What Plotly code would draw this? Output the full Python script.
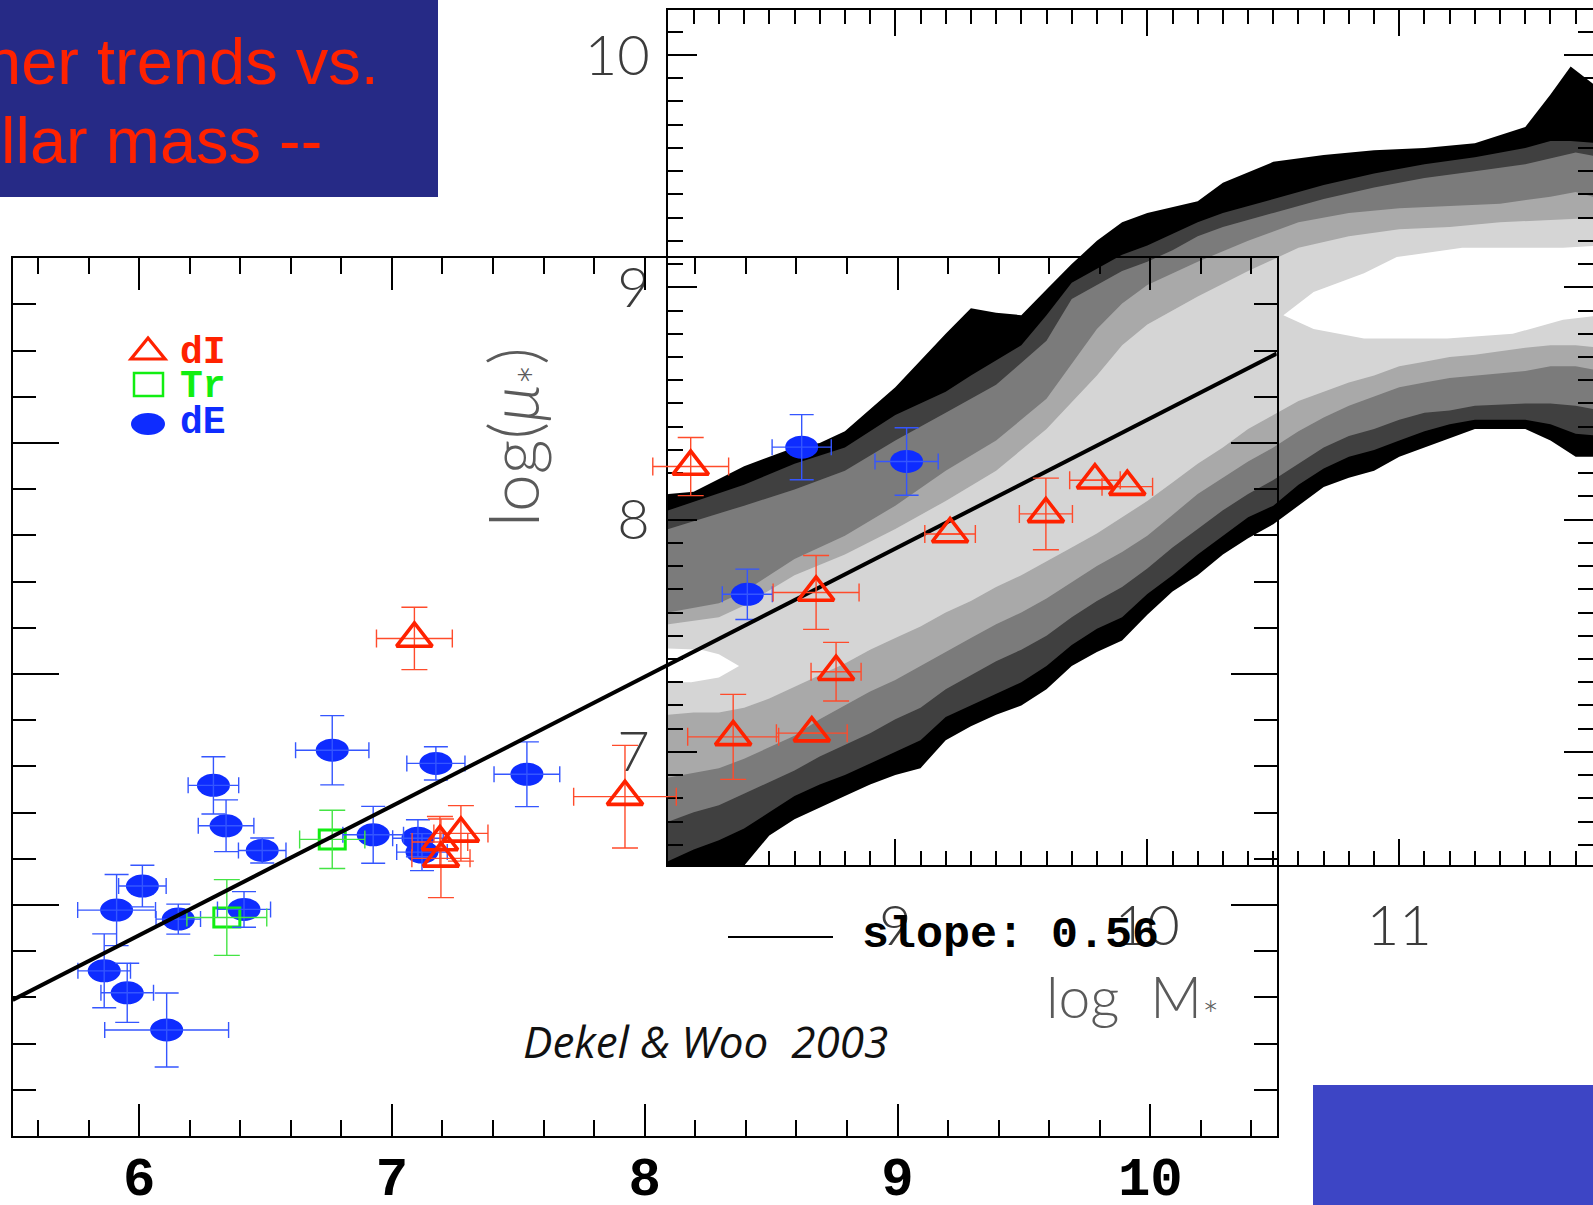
import plotly.graph_objects as go

W, H = 1593, 1205

# ---------------- foreground data (Dekel & Woo 2003) ----------------
dI_x = [8.182, 8.678, 9.208, 9.587, 9.781, 9.909, 8.757, 8.350, 8.661, 7.089, 7.190, 7.273, 7.194, 7.922]
dI_y = [7.898, 7.353, 7.606, 7.693, 7.839, 7.811, 7.010, 6.728, 6.744, 7.154, 6.273, 6.310, 6.202, 6.469]
dI_xerr = [0.15, 0.17, 0.10, 0.105, 0.10, 0.10, 0.099, 0.18, 0.14, 0.15, 0.11, 0.107, 0.115, 0.203]
dI_yerr = [0.126, 0.16, 0.0, 0.155, 0.0, 0.0, 0.127, 0.184, 0.0, 0.135, 0.11, 0.12, 0.17, 0.222]

dE_x = [6.764, 6.294, 6.344, 6.487, 7.174, 6.926, 7.103, 7.119, 7.534, 6.013, 5.911, 6.155, 6.415,
        5.862, 5.953, 6.109, 8.621, 9.036, 8.406]
dE_y = [6.670, 6.518, 6.343, 6.236, 6.613, 6.304, 6.289, 6.229, 6.566, 6.082, 5.978, 5.939, 5.981,
        5.715, 5.620, 5.459, 7.982, 7.920, 7.345]
dE_xerr = [0.145, 0.10, 0.11, 0.094, 0.115, 0.12, 0.10, 0.10, 0.13, 0.094, 0.154, 0.088, 0.105,
           0.104, 0.104, 0.245, 0.117, 0.125, 0.099]
dE_yerr = [0.15, 0.124, 0.112, 0.054, 0.072, 0.123, 0.08, 0.08, 0.14, 0.09, 0.154, 0.065, 0.077,
           0.16, 0.128, 0.16, 0.141, 0.146, 0.109]

Tr_x = [6.764, 6.347]
Tr_y = [6.284, 5.946]
Tr_xerr = [0.129, 0.158]
Tr_yerr = [0.126, 0.164]

fit_x = [5.5, 10.5]
fit_y = [5.589, 8.387]
fg_xticks = [6, 7, 8, 9, 10]

# ---------------- background data (contour bands, log M* vs log mu*) ----------------
U0_x = [8.0, 8.1, 8.2, 8.4, 8.6, 8.7, 8.8, 9.0, 9.2, 9.3, 9.4, 9.5, 9.6, 9.7, 9.8, 9.9, 10.0,
        10.2, 10.3, 10.5, 10.7, 10.9, 11.1, 11.3, 11.5, 11.6, 11.68, 11.8]
U0_y = [8.06, 8.11, 8.12, 8.23, 8.31, 8.33, 8.38, 8.57, 8.80, 8.91, 8.89, 8.88, 8.99, 9.10, 9.20,
        9.28, 9.32, 9.37, 9.45, 9.54, 9.57, 9.59, 9.60, 9.62, 9.69, 9.83, 9.95, 9.85]
U1_x = [8.0, 8.1, 8.4, 8.6, 8.8, 9.0, 9.2, 9.3, 9.5, 9.6, 9.7, 9.8, 9.9, 10.0, 10.1, 10.2, 10.3,
        10.5, 10.7, 10.9, 11.1, 11.3, 11.5, 11.6, 11.68, 11.8]
U1_y = [8.00, 8.04, 8.15, 8.24, 8.31, 8.45, 8.55, 8.62, 8.75, 8.88, 9.02, 9.08, 9.14, 9.18, 9.23,
        9.28, 9.32, 9.38, 9.44, 9.49, 9.53, 9.56, 9.60, 9.63, 9.63, 9.62]
U2_x = [8.0, 8.1, 8.4, 8.6, 8.8, 9.0, 9.2, 9.4, 9.6, 9.7, 9.8, 9.9, 10.0, 10.1, 10.2, 10.3, 10.5,
        10.7, 10.9, 11.1, 11.3, 11.5, 11.7, 11.8]
U2_y = [7.91, 7.96, 8.06, 8.13, 8.21, 8.34, 8.46, 8.58, 8.77, 8.95, 9.01, 9.07, 9.11, 9.16, 9.22,
        9.26, 9.32, 9.38, 9.43, 9.47, 9.50, 9.53, 9.58, 9.56]
U3_x = [8.0, 8.1, 8.3, 8.4, 8.6, 8.8, 9.0, 9.2, 9.4, 9.6, 9.8, 9.9, 10.0, 10.2, 10.4, 10.6, 10.8,
        11.0, 11.2, 11.4, 11.6, 11.7, 11.8]
U3_y = [7.58, 7.60, 7.64, 7.69, 7.83, 7.93, 8.06, 8.21, 8.34, 8.52, 8.82, 8.93, 9.01, 9.11, 9.20,
        9.28, 9.32, 9.34, 9.35, 9.36, 9.39, 9.41, 9.38]
U4_x = [8.0, 8.1, 8.3, 8.4, 8.6, 8.8, 9.0, 9.2, 9.4, 9.6, 9.8, 9.9, 10.0, 10.2, 10.4, 10.6, 10.8,
        11.0, 11.2, 11.4, 11.6, 11.8]
U4_y = [7.53, 7.55, 7.58, 7.63, 7.76, 7.85, 7.96, 8.08, 8.21, 8.39, 8.62, 8.75, 8.84, 8.96, 9.07,
        9.17, 9.22, 9.25, 9.26, 9.28, 9.29, 9.30]

L_x = [8.0, 8.1, 8.2, 8.3, 8.4, 8.5, 8.6, 8.7, 8.8, 8.9, 9.0, 9.1, 9.2, 9.3, 9.4, 9.5, 9.6, 9.7,
       9.8, 9.9, 10.0, 10.1, 10.2, 10.3, 10.4, 10.5, 10.6, 10.7, 10.8, 10.9, 11.0, 11.1, 11.2,
       11.3, 11.5, 11.6, 11.7, 11.8]
L0_y = [6.21, 6.30, 6.38, 6.45, 6.51, 6.64, 6.71, 6.76, 6.81, 6.86, 6.90, 6.93, 7.05, 7.11, 7.16,
        7.20, 7.27, 7.37, 7.43, 7.48, 7.59, 7.69, 7.76, 7.85, 7.92, 7.98, 8.06, 8.14, 8.18, 8.21,
        8.27, 8.31, 8.35, 8.39, 8.39, 8.34, 8.27, 8.27]
L1_y = [6.49, 6.53, 6.58, 6.62, 6.67, 6.74, 6.81, 6.86, 6.90, 6.95, 7.00, 7.05, 7.15, 7.20, 7.25,
        7.30, 7.37, 7.46, 7.53, 7.58, 7.68, 7.76, 7.85, 7.93, 8.01, 8.06, 8.15, 8.22, 8.27, 8.30,
        8.34, 8.38, 8.41, 8.43, 8.43, 8.41, 8.37, 8.36]
L2_y = [6.66, 6.70, 6.74, 6.77, 6.82, 6.87, 6.92, 6.98, 7.03, 7.08, 7.14, 7.19, 7.27, 7.33, 7.39,
        7.44, 7.50, 7.58, 7.65, 7.71, 7.79, 7.88, 7.96, 8.04, 8.11, 8.17, 8.24, 8.31, 8.36, 8.39,
        8.43, 8.46, 8.47, 8.49, 8.50, 8.50, 8.49, 8.47]
L3_y = [6.86, 6.89, 6.91, 6.93, 6.97, 7.02, 7.07, 7.14, 7.20, 7.26, 7.31, 7.37, 7.43, 7.49, 7.55,
        7.60, 7.66, 7.73, 7.80, 7.86, 7.93, 8.02, 8.11, 8.18, 8.25, 8.31, 8.38, 8.44, 8.49, 8.53,
        8.57, 8.59, 8.61, 8.62, 8.64, 8.66, 8.66, 8.64]
L4_y = [7.15, 7.16, 7.17, 7.17, 7.19, 7.23, 7.28, 7.33, 7.38, 7.44, 7.49, 7.54, 7.60, 7.65, 7.71,
        7.76, 7.82, 7.88, 7.94, 8.01, 8.08, 8.16, 8.24, 8.31, 8.39, 8.45, 8.51, 8.55, 8.59, 8.62,
        8.66, 8.68, 8.70, 8.71, 8.74, 8.75, 8.75, 8.74]

coreA_x = [10.54, 10.66, 10.86, 10.99, 11.25, 11.45, 11.65, 11.80, 11.80, 11.65, 11.45, 11.19, 10.86, 10.66]
coreA_y = [8.88, 8.98, 9.06, 9.13, 9.17, 9.17, 9.17, 9.18, 8.88, 8.86, 8.80, 8.78, 8.78, 8.82]
coreB_x = [7.99, 8.23, 8.30, 8.38, 8.30, 8.19, 7.99]
coreB_y = [7.45, 7.44, 7.42, 7.37, 7.32, 7.30, 7.30]

bg_xticks = [9, 10, 11]
bg_yticks = [7, 8, 9, 10]

# ---------------- layout geometry (pixels) ----------------
BG_L, BG_R, BG_T, BG_B = 668.0, 1593.0, 10.0, 865.0
BG_XR = [8.098, 11.7687]
BG_YR = [6.5131, 10.1937]
FG_L, FG_R, FG_T, FG_B = 12.7, 1276.7, 258.2, 1136.0
FG_XR = [5.5, 10.5]
FG_YR = [5.0, 8.8]
fg_ppx = (FG_R - FG_L) / (FG_XR[1] - FG_XR[0])
fg_ppy = (FG_B - FG_T) / (FG_YR[1] - FG_YR[0])

def px(x):
    return x / W

def py(y):
    return 1 - y / H

RED = "#ff2200"
RED_ERR = "#ff4b2b"
BLUE = "#0e2cff"
BLUE_ERR = "#3556ff"
GREEN = "#11ee11"
GREEN_ERR = "#44e444"

fig = go.Figure()

# background contour bands
bands = [
    ("#000000", U0_x, U0_y, L0_y),
    ("#404040", U1_x, U1_y, L1_y),
    ("#7b7b7b", U2_x, U2_y, L2_y),
    ("#a9a9a9", U3_x, U3_y, L3_y),
    ("#d5d5d5", U4_x, U4_y, L4_y),
]
for col, ux, uy, ly in bands:
    fig.add_trace(go.Scatter(x=ux + L_x[::-1], y=uy + ly[::-1], mode="lines", fill="toself",
                             fillcolor=col, line=dict(width=0, color=col), hoverinfo="skip",
                             xaxis="x", yaxis="y", showlegend=False))
for cx, cy in [(coreA_x, coreA_y), (coreB_x, coreB_y)]:
    fig.add_trace(go.Scatter(x=cx, y=cy, mode="lines", fill="toself", fillcolor="#ffffff",
                             line=dict(width=0, color="#ffffff"), hoverinfo="skip",
                             xaxis="x", yaxis="y", showlegend=False))

# foreground traces
fig.add_trace(go.Scatter(x=dE_x, y=dE_y, mode="markers",
                         marker=dict(size=2, color="rgba(0,0,0,0)"),
                         error_x=dict(type="data", array=dE_xerr, color=BLUE_ERR, thickness=1.4, width=8),
                         error_y=dict(type="data", array=dE_yerr, color=BLUE_ERR, thickness=1.4, width=12),
                         xaxis="x2", yaxis="y2", name="dE", showlegend=False))
fig.add_trace(go.Scatter(x=Tr_x, y=Tr_y, mode="markers",
                         marker=dict(size=2, color="rgba(0,0,0,0)"),
                         error_x=dict(type="data", array=Tr_xerr, color=GREEN_ERR, thickness=1.4, width=9),
                         error_y=dict(type="data", array=Tr_yerr, color=GREEN_ERR, thickness=1.4, width=13),
                         xaxis="x2", yaxis="y2", name="Tr", showlegend=False))
fig.add_trace(go.Scatter(x=fit_x, y=fit_y, mode="lines", line=dict(color="black", width=4),
                         xaxis="x2", yaxis="y2", name="slope", showlegend=False))
fig.add_trace(go.Scatter(x=dI_x, y=dI_y, mode="markers",
                         marker=dict(symbol="triangle-up-open", size=31, color=RED,
                                     line=dict(width=3.6, color=RED)),
                         error_x=dict(type="data", array=dI_xerr, color=RED_ERR, thickness=1.4, width=9),
                         error_y=dict(type="data", array=dI_yerr, color=RED_ERR, thickness=1.4, width=13),
                         xaxis="x2", yaxis="y2", name="dI", showlegend=False))

shapes = []
# slide decorations
shapes.append(dict(type="rect", xref="paper", yref="paper", x0=px(-2), x1=px(438), y0=py(197), y1=py(-2),
                   fillcolor="#262a86", line=dict(width=0), layer="above"))
shapes.append(dict(type="rect", xref="paper", yref="paper", x0=px(1313), x1=px(W + 2), y0=py(H + 2), y1=py(1085),
                   fillcolor="#3d45c5", line=dict(width=0), layer="above"))
# dE filled (elliptical) dots and Tr open squares, in data coordinates
ew, eh = 16.5 / fg_ppx, 11.5 / fg_ppy
for x, y in zip(dE_x, dE_y):
    shapes.append(dict(type="circle", xref="x2", yref="y2", x0=x - ew, x1=x + ew, y0=y - eh, y1=y + eh,
                       fillcolor=BLUE, line=dict(width=0), layer="below"))
sw, sh = 13.0 / fg_ppx, 9.5 / fg_ppy
for x, y in zip(Tr_x, Tr_y):
    shapes.append(dict(type="rect", xref="x2", yref="y2", x0=x - sw, x1=x + sw, y0=y - sh, y1=y + sh,
                       fillcolor="rgba(0,0,0,0)", line=dict(width=3, color=GREEN), layer="below"))
# legend symbols
shapes.append(dict(type="path", xref="paper", yref="paper",
                   path="M {:.5f} {:.5f} L {:.5f} {:.5f} L {:.5f} {:.5f} Z".format(
                       px(131), py(359), px(165), py(359), px(148), py(338)),
                   line=dict(color=RED, width=3.2), fillcolor="rgba(0,0,0,0)"))
shapes.append(dict(type="rect", xref="paper", yref="paper", x0=px(134), x1=px(163), y0=py(396), y1=py(373),
                   line=dict(color=GREEN, width=2.5), fillcolor="rgba(0,0,0,0)"))
shapes.append(dict(type="circle", xref="paper", yref="paper", x0=px(131), x1=px(165), y0=py(435), y1=py(413),
                   line=dict(width=0), fillcolor=BLUE))
# slope legend line
shapes.append(dict(type="line", xref="paper", yref="paper", x0=px(728), x1=px(833), y0=py(937), y1=py(937),
                   line=dict(color="black", width=2)))

LIGHT = dict(family="Lato, Open Sans, sans-serif", size=56, color="#3c3c3c", weight=300)
MONO = dict(family="Liberation Mono, Courier New, monospace", weight="bold")

annotations = [
    dict(text="her trends vs.", x=px(-17), y=py(61.5), xref="paper", yref="paper", xanchor="left",
         yanchor="middle", showarrow=False,
         font=dict(family="Liberation Sans, Arial, sans-serif", size=65, color=RED)),
    dict(text="llar mass --", x=px(-1), y=py(140.5), xref="paper", yref="paper", xanchor="left",
         yanchor="middle", showarrow=False,
         font=dict(family="Liberation Sans, Arial, sans-serif", size=65, color=RED)),
    dict(text="log(<i>μ</i><sub>*</sub>)", x=px(517), y=py(437), xref="paper", yref="paper",
         xanchor="center", yanchor="middle", textangle=-90, showarrow=False,
         font=dict(family=LIGHT["family"], size=68, color="#5a5a5a", weight=300)),
    dict(text="log\u00a0\u00a0M<sub>*</sub>", x=px(1132), y=py(1000), xref="paper", yref="paper",
         xanchor="center", yanchor="middle", showarrow=False,
         font=dict(family=LIGHT["family"], size=57, color="#5a5a5a", weight=300)),
    dict(text="slope:\u00a00.56", x=px(860), y=py(935), xref="paper", yref="paper", xanchor="left",
         yanchor="middle", showarrow=False, font=dict(size=45, color="black", **MONO)),
    dict(text="<i>Dekel & Woo\u00a0\u00a02003</i>", x=px(705), y=py(1041), xref="paper", yref="paper",
         xanchor="center", yanchor="middle", showarrow=False,
         font=dict(family="Open Sans, Noto Sans, sans-serif", size=44, color="#111111")),
    dict(text="dI", x=px(178), y=py(352), xref="paper", yref="paper", xanchor="left", yanchor="middle",
         showarrow=False, font=dict(size=38, color=RED, **MONO)),
    dict(text="Tr", x=px(178), y=py(387), xref="paper", yref="paper", xanchor="left", yanchor="middle",
         showarrow=False, font=dict(size=38, color=GREEN, **MONO)),
    dict(text="dE", x=px(178), y=py(422), xref="paper", yref="paper", xanchor="left", yanchor="middle",
         showarrow=False, font=dict(size=38, color=BLUE, **MONO)),
]

def axis_style(ticklen, minor_dtick, minor_len, width=2):
    return dict(showline=True, linecolor="black", linewidth=width, mirror="allticks",
                ticks="inside", ticklen=ticklen, tickwidth=width, tickcolor="black",
                showgrid=False, zeroline=False, automargin=False,
                tickmode="linear", tick0=0, dtick=1,
                minor=dict(dtick=minor_dtick, ticklen=minor_len, tickwidth=width, tickcolor="black",
                           ticks="inside", showgrid=False))

fig.update_layout(
    width=W, height=H, margin=dict(l=0, r=0, t=0, b=0, pad=0, autoexpand=False),
    paper_bgcolor="white", plot_bgcolor="rgba(0,0,0,0)", showlegend=False, hovermode=False,
    xaxis=dict(domain=[px(BG_L), 1.0], range=BG_XR, anchor="y",
               tickfont=LIGHT, ticklabelstandoff=11, **axis_style(26, 0.1, 14)),
    yaxis=dict(domain=[py(BG_B), py(BG_T)], range=BG_YR, anchor="x",
               tickfont=LIGHT, ticklabelstandoff=5, **axis_style(29, 0.1, 15)),
    xaxis2=dict(domain=[px(FG_L), px(FG_R)], range=FG_XR, anchor="y2",
                tickfont=dict(size=54, color="black", **MONO), ticklabelstandoff=-8,
                **axis_style(32, 0.2, 16)),
    yaxis2=dict(domain=[py(FG_B), py(FG_T)], range=FG_YR, anchor="x2", showticklabels=False,
                **axis_style(46, 0.2, 23)),
    shapes=shapes, annotations=annotations,
)

fig.write_html("out.html", config={"displayModeBar": False},
               post_script="document.body.style.margin='0';document.body.style.overflow='hidden';")
